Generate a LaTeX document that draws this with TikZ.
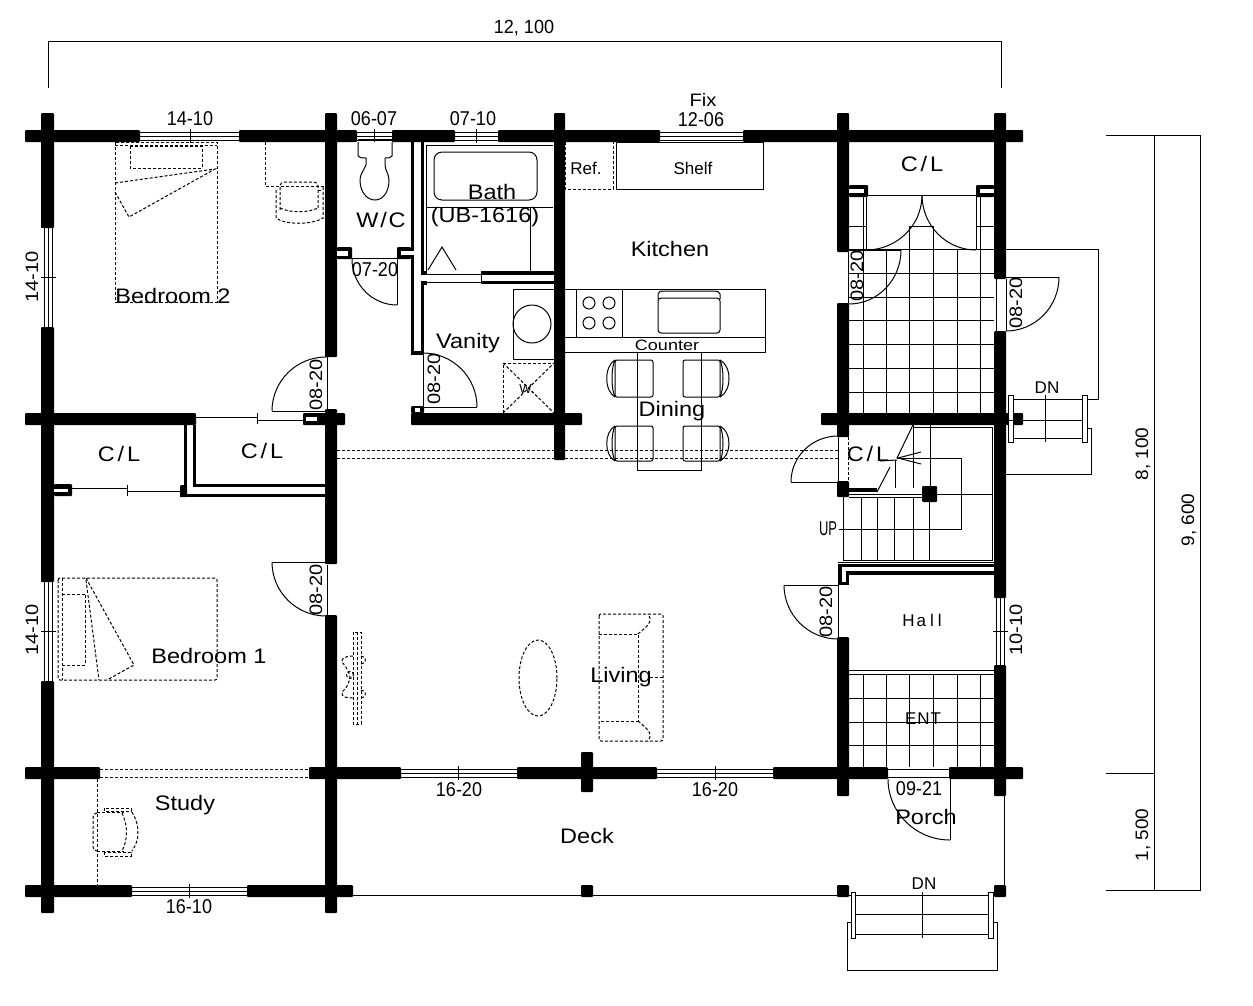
\documentclass[tikz,border=0pt]{standalone}
\usepackage{fontspec}
\setmainfont{Liberation Sans}
\usetikzlibrary{calc}
\tikzset{
  wall/.style={fill=black,rounded corners=1pt},
  ln/.style={draw=black,line width=1pt},
  dsh/.style={draw=black,line width=1pt,dash pattern=on 3pt off 2pt},
  rm/.style={inner sep=0pt,font=\fontsize{21}{21}\selectfont,transform shape,xscale=1.12},
  rmsm/.style={inner sep=0pt,font=\fontsize{17}{17}\selectfont},
  num/.style={inner sep=0pt,font=\fontsize{20}{20}\selectfont,transform shape,xscale=.9},
  dimt/.style={inner sep=0pt,font=\fontsize{19}{19}\selectfont,transform shape,xscale=.95}
}
\def\W(#1)(#2){\fill[wall] (#1) rectangle (#2);}
\def\swing(#1)(#2)(#3){\draw[ln] (#1) .. controls ($(#1)+.5523*(#2)-.5523*(#3)$) and ($(#2)+.5523*(#1)-.5523*(#3)$) .. (#2);}
\def\hwin#1#2#3#4{% x1 x2 ytop tick
  \draw[ln] (#1,#3+2)--(#2,#3+2) (#1,#3+6)--(#2,#3+6) (#1,#3+10)--(#2,#3+10);
  \draw[ln] (#4,#3-1)--(#4,#3+13);}
\def\vwin#1#2#3#4{% xleft y1 y2 tick
  \draw[ln] (#1+2,#2)--(#1+2,#3) (#1+6,#2)--(#1+6,#3) (#1+10,#2)--(#1+10,#3);
  \draw[ln] (#1-1,#4)--(#1+14,#4);}
\def\dinL#1#2{% rect left chair y1 y2
  \draw[ln,rounded corners=2pt] (615,#1) rectangle (653,#2);
  \draw[ln] (615,#1) .. controls (604,#1+6) and (604,#2-6) .. (615,#2);
  \draw[ln] (615,#1) .. controls (611,#1+8) and (611,#2-8) .. (615,#2);}
\def\dinR#1#2{%
  \draw[ln,rounded corners=2pt] (683,#1) rectangle (720,#2);
  \draw[ln] (720,#1) .. controls (732,#1+6) and (732,#2-6) .. (720,#2);
  \draw[ln] (720,#1) .. controls (724,#1+8) and (724,#2-8) .. (720,#2);}
\begin{document}
\begin{tikzpicture}[x=1pt,y=-1pt]
\useasboundingbox (0,0) rectangle (1253,1005);
\fill[white] (0,0) rectangle (1253,1005);

% --- dimension lines
\draw[ln] (48,88)--(48,41)--(1001,41)--(1001,88);
\draw[ln] (1106,135)--(1200,135)--(1200,890)--(1106,890);
\draw[ln] (1154,135)--(1154,890);
\draw[ln] (1106,773)--(1154,773);

% --- tile grids
\foreach \x in {863,886,909,933,957,980}{\draw[ln] (\x,249)--(\x,413);\draw[ln] (\x,674)--(\x,767);}
\foreach \y in {249,273,297,320,344,368,392}{\draw[ln] (849,\y)--(994,\y);}
\foreach \y in {674,698,722,745}{\draw[ln] (849,\y)--(994,\y);}
\draw[ln] (849,670)--(994,670);
\draw[ln] (863,197)--(863,249) (866,195)--(866,249) (976,195)--(976,249) (980,197)--(980,249);
\draw[ln] (849,226)--(866,226) (909,226)--(933,226) (976,226)--(994,226);
\draw[ln] (909,226)--(909,249) (933,226)--(933,249);
\draw[ln] (868,195)--(976,195);
\swing(922,195)(866,250)(866,195)
\swing(922,195)(976,250)(976,195)

% --- thick walls: outer verticals
\W(41,113)(54,228) \W(41,327)(54,582) \W(41,681)(54,913)
\W(325,113)(337,357) \W(325,409)(337,564) \W(325,615)(337,913)
\W(554,113)(565,460)
\W(837,113)(849,252) \W(837,303)(849,437) \W(837,637)(849,796)
\W(994,113)(1006,279) \W(994,331)(1006,598) \W(994,665)(1006,796)
% --- thick walls: horizontals
\W(25,130)(140,142) \W(239,130)(357,142) \W(392,130)(455,142) \W(498,130)(660,142) \W(743,130)(1023,142)
\W(25,413)(196,425) \W(303,413)(345,425)
\W(411,413)(582,425) \W(821,413)(1023,425)
\W(25,767)(100,779) \W(309,767)(401,779) \W(517,767)(657,779) \W(773,767)(888,779) \W(949,767)(1023,779)
\W(581,752)(593,792)
\W(25,885)(132,897) \W(247,885)(353,897)
% --- small posts
\W(581,885)(593,897) \W(837,885)(849,897) \W(994,885)(1006,897)
\fill[white] (306,417) rectangle (317,421);

% --- windows
\hwin{140}{239}{130}{190} \hwin{357}{392}{130}{374} \hwin{455}{498}{130}{476}
\draw[ln] (660,132)--(743,132) (660,136)--(743,136) (660,140)--(743,140);
\hwin{401}{517}{767}{458} \hwin{657}{773}{767}{715}
\hwin{132}{247}{885}{189}
\vwin{42}{228}{327}{277} \vwin{42}{582}{681}{631} \vwin{994}{598}{665}{631}

% --- beams
\draw[dsh] (337,450)--(554,450) (337,458)--(554,458) (565,450)--(838,450) (565,458)--(838,458);
\draw[dsh] (100,769)--(309,769) (100,777)--(309,777);

% --- closet partitions
\draw[line width=3.5pt] (185.5,425)--(185.5,486);
\draw[line width=3pt] (194.5,425)--(194.5,485.5)--(325,485.5);
\draw[line width=3.5pt] (180,495.5)--(325,495.5);
\W(180,485)(187,497)
\draw[ln] (196,417)--(257,417) (257,420)--(303,420) (257,413)--(257,424);
\draw[ln] (72,488)--(127,488) (127,491)--(180,491) (127,485)--(127,496);
\W(54,484)(72,496) \fill[white] (54,488.5) rectangle (68,492);

% --- W/C
\draw[line width=3.5pt] (412.5,142)--(412.5,353)--(424,353);
\draw[line width=3.5pt] (422.5,142)--(422.5,272) (422.5,283)--(422.5,353);
\W(337,247)(352,259) \fill[white] (337,251) rectangle (348,256);
\W(397,247)(411,259) \fill[white] (401,251) rectangle (414,255);
\draw[ln] (352,258)--(397,258);
\draw[ln] (397,259)--(397,305);
\swing(352,259)(397,305)(397,259)
% toilet
\draw[ln,fill=white] (358,142)--(358,156) .. controls (359,158) and (362,158) .. (366,158)--(366,165) .. controls (364,170) and (360,174) .. (360,180) .. controls (360,192) and (367,200) .. (375,200) .. controls (383,200) and (389,192) .. (389,180) .. controls (389,174) and (385,170) .. (385,165)--(385,158) .. controls (388,158) and (391,158) .. (392,156)--(392,142);
\draw[line width=1.6pt] (358,140)--(392,140);

% --- bath
\draw[ln] (426,145)--(426,271) (426,145)--(553,145);
\draw[ln,rounded corners=8pt] (434,152) rectangle (537,200);
\draw[ln] (426,207)--(553,207) (530,207)--(530,271);
\draw[ln] (428,270)--(442,247)--(456,270);
\draw[line width=3.5pt] (421,273)--(427,273) (481,273)--(554,273) (481,282.5)--(554,282.5) (421,283)--(427,283);
\draw[ln] (427,274)--(481,274) (427,282)--(481,282) (481,274)--(481,282);

% --- vanity
\draw[ln] (513,359)--(513,289)--(554,289) (513,359)--(554,359);
\draw[ln] (532,324) circle[radius=19pt];
\draw[dsh] (503,413)--(503,363)--(554,363);
\draw[dsh] (503,413)--(554,363) (503,363)--(554,413);
\draw[ln] (423,353)--(423,407)--(477,407);
\swing(423,353)(477,407)(423,407)
\W(411,406)(424,413) \fill[white] (415,408) rectangle (420,412);

% --- kitchen
\draw[dsh] (565,142)--(565,189)--(613,189)--(613,142);
\draw[ln] (616,142) rectangle (763,189);
\draw[ln] (565,289)--(765,289)--(765,352)--(565,352) (565,337)--(765,337);
\draw[ln] (576,289)--(576,337) (622,289)--(622,337);
\foreach \px in {589,609}{\foreach \py in {303,323}{\draw[ln] (\px,\py) circle[radius=6pt];}}
\draw[ln,rounded corners=3pt] (658,298) rectangle (720,333);
\draw[ln] (658,299)--(658,294) .. controls (659,291) and (661,291) .. (663,291)--(715,291) .. controls (718,291) and (719,292) .. (720,294)--(720,299);

% --- dining
\draw[ln] (637,352)--(637,470)--(701,470)--(701,352);
\dinL{360}{397} \dinR{360}{397} \dinL{426}{461} \dinR{426}{461}

% --- bedroom 2 furniture
\draw[dsh] (115,142) rectangle (217,302);
\draw[dsh] (115,145)--(217,145);
\draw[dsh] (130,146) rectangle (202,168);
\draw[dsh] (115,183)--(215,169)--(129,217)--(115,192);
\draw[dsh] (265,142)--(265,186)--(325,186);
\draw[dsh,rounded corners=4pt] (280,210)--(280,182)--(318,182)--(318,210);
\draw[dsh] (280,208) .. controls (290,213) and (308,213) .. (318,208);
\draw[dsh] (276,190)--(276,218) .. controls (285,225) and (312,225) .. (323,218)--(323,186);
\draw[dsh] (318,190)--(323,190);

% --- bedroom 2 door
\draw[ln] (272,411)--(326,411) (327,357)--(327,411);
\swing(326,357)(272,411)(326,411)

% --- bedroom 1 furniture
\draw[dsh,rounded corners=2pt] (58,578) rectangle (217,680);
\draw[dsh] (62,578)--(62,680);
\draw[dsh] (85,594)--(62,594) (62,665)--(85,665)--(85,594);
\draw[dsh] (86,578)--(134,665)--(107,680);
\draw[dsh] (86,580)--(99,680);
\draw[ln] (272,562)--(325,562) (327,565)--(327,615);
\swing(272,562)(326,616)(326,562)

% --- study
\draw[dsh] (97,779)--(97,885);
\draw[dsh,rounded corners=4pt] (97,813)--(93,813)--(93,851)--(97,851);
\draw[dsh] (97,812)--(124,812) (97,851)--(124,851);
\draw[dsh] (104,808) rectangle (131,811);
\draw[dsh] (104,852) rectangle (131,856);
\draw[dsh] (122,813) .. controls (128,825) and (128,840) .. (122,851);
\draw[dsh] (132,812) .. controls (140,825) and (140,840) .. (132,851);

% --- living furniture
\draw[dsh] (353,632) rectangle (361,724);
\draw[dsh] (357,632)--(357,724);
\draw[dsh] (353,656) .. controls (346,656) and (341,658) .. (342,662) .. controls (347,668) and (349,672) .. (350,677) .. controls (349,683) and (347,688) .. (342,692) .. controls (341,697) and (346,698) .. (353,698);
\draw[dsh] (361,656) .. controls (367,656) and (367,664) .. (361,664);
\draw[dsh] (361,690) .. controls (367,690) and (367,698) .. (361,698);
\draw[dsh] (350,675) circle[radius=3.5pt];
\draw[dsh] (538,678) ellipse[x radius=19pt,y radius=38pt];
\draw[dsh,rounded corners=2pt] (599,614) rectangle (663,741);
\draw[dsh] (599,634)--(638,634)--(638,721)--(599,721);
\draw[dsh] (638,634) .. controls (646,627) and (654,622) .. (648,614);
\draw[dsh] (638,721) .. controls (646,728) and (654,733) .. (648,741);
\draw[dsh] (650,677)--(663,677);

% --- NE closet stubs and doors
\W(849,185)(868,197) \fill[white] (849,189) rectangle (864,193);
\W(976,185)(994,197) \fill[white] (980,189) rectangle (994,193);
\draw[ln] (848,252)--(848,303) (849,250)--(901,250);
\swing(901,250)(849,304)(849,250)
% east door and landing
\draw[ln] (996,279)--(996,331) (1006,279)--(1006,331);
\draw[ln] (1006,277)--(1059,277);
\swing(1059,277)(1006,331)(1006,277)
\draw[ln] (1006,249)--(1098,249)--(1098,399)--(1087,399);
\draw[ln] (1006,474)--(1091,474)--(1091,428)--(1087,428);
\draw[ln,fill=white] (1008,395) rectangle (1013,442);
\draw[ln,fill=white] (1082,395) rectangle (1087,442);
\draw[ln] (1013,399)--(1082,399) (1006,420)--(1082,420) (1013,438)--(1082,438) (1045,395)--(1045,442);

% --- stairs
\draw[ln] (913,427)--(992,427)--(992,560)--(843,560)--(843,497);
\draw[ln] (838,562)--(994,562);
\foreach \x in {861,877,894,913,929}{\draw[ln] (\x,497)--(\x,560);}
\draw[ln] (895,460)--(895,488) (913,425)--(913,488) (930,425)--(930,487);
\draw[ln] (937,494)--(992,494);
\draw[ln] (839,529)--(961,529)--(961,458)--(897,458);
\draw[ln] (921,452)--(898,458)--(921,464);
\draw[ln] (913,425)--(897,458);
\draw[ln] (890,467)--(877,492);
\draw[ln] (880,461)--(897,460);
\W(837,481)(849,497) \W(922,486)(937,502) \fill[black] (848,488) rectangle (877,492);
\draw[ln] (849,494)--(922,494) (849,497)--(922,497);
\draw[ln] (838,437)--(838,481);
\draw[dsh] (848,437)--(848,481);
\draw[ln] (791,482)--(838,482);
\swing(838,436)(791,482)(838,482)
% stair partition
\draw[line width=3.5pt] (840,585)--(840,565.5)--(994,565.5);
\draw[line width=3.5pt] (840,583.5)--(847.5,583.5)--(847.5,573)--(994,573);
% hall door
\draw[ln] (784,585)--(838,585) (838,585)--(838,637);
\swing(784,585)(838,639)(838,585)

% --- entry door
\draw[ln] (888,769)--(949,769) (888,777)--(949,777);
\draw[ln] (950,779)--(950,840);
\swing(888,779)(950,840)(950,779)

% --- deck
\draw[ln] (353,895)--(581,895) (593,895)--(837,895) (849,895)--(994,895);
\draw[ln] (1004,796)--(1004,886);
\draw[ln] (851,922)--(847,922)--(847,970)--(997,970)--(997,922)--(993,922);
\draw[ln,fill=white] (851,892) rectangle (855,938);
\draw[ln,fill=white] (988,892) rectangle (993,938);
\draw[ln] (855,914)--(988,914) (855,934)--(988,934) (922,892)--(922,938);

% --- text
\node[dimt] (d1) at (524,28) {12, 100};
\node[dimt,rotate=90] (d2) at (1143,454) {8, 100};
\node[dimt,rotate=90] (d3) at (1189,520) {9, 600};
\node[dimt,rotate=90] (d4) at (1143,835) {1, 500};
\node[num] (w1) at (190,119) {14-10};
\node[num] (w2) at (374,119) {06-07};
\node[num] (w3) at (473,119) {07-10};
\node[inner sep=0pt,font=\fontsize{18}{18}\selectfont,transform shape,xscale=1.12] (fix) at (703,100) {Fix};
\node[num] (w4) at (701,120) {12-06};
\node[num,rotate=90] (w5) at (32,277) {14-10};
\node[num,rotate=90] (w6) at (32,630) {14-10};
\node[num,rotate=90] (n1) at (316,385) {08-20};
\node[num,rotate=90] (n2) at (316,590) {08-20};
\node[num] (n3) at (375,270) {07-20};
\node[num,rotate=90] (n4) at (434,379) {08-20};
\node[num,rotate=90] (n5) at (857,276) {08-20};
\node[num,rotate=90] (n6) at (1016,303) {08-20};
\node[num,rotate=90] (n7) at (826,612) {08-20};
\node[num,rotate=90] (n8) at (1016,630) {10-10};
\node[num] (n9) at (919,789) {09-21};
\node[num] (w7) at (459,790) {16-20};
\node[num] (w8) at (715,790) {16-20};
\node[num] (w9) at (189,907) {16-10};
\node[rm] (bd2) at (173,296) {Bedroom 2};
\node[rm] (wc) at (381,220) {W\kern1.5pt/\kern1.5pt C};
\node[rm] (bath) at (492,192) {Bath};
\node[rm] (ub) at (485,217) {(UB-1616)};
\node[rmsm] (ref) at (586,168) {Ref.};
\node[rmsm] (shelf) at (693,168) {Shelf};
\node[rm] (kit) at (670,249) {Kitchen};
\node[rm] (van) at (468,343) {Vanity};
\node[inner sep=0pt,font=\fontsize{13}{13}\selectfont] (wm) at (527,389) {W.};
\node[inner sep=0pt,font=\fontsize{15}{15}\selectfont,transform shape,xscale=1.2] (cnt) at (667,345) {Counter};
\node[rm] (din) at (672,411) {Dining};
\node[rm] (cl1) at (119,454) {C\kern2.5pt/\kern2.5pt L};
\node[rm] (cl2) at (262,451) {C\kern2.5pt/\kern2.5pt L};
\node[rm] (cl3) at (922,164) {C\kern2.5pt/\kern2.5pt L};
\node[rm] (cl4) at (868,454) {C\kern2.5pt/\kern2.5pt L};
\node[rmsm] (dn1) at (1047,388) {DN};
\node[num,xscale=.72] (up) at (828,529) {UP};
\node[rmsm] (hall) at (922,620) {H\kern2pt a\kern4pt l\kern4pt l};
\node[rmsm] (ent) at (923,719) {E\kern1pt N\kern1pt T};
\node[rm] (porch) at (926,817) {Porch};
\node[rmsm] (dn2) at (924,884) {DN};
\node[rm] (deck) at (587,836) {Deck};
\node[rm] (study) at (185,805) {Study};
\node[rm] (bd1) at (209,656) {Bedroom 1};
\node[rm] (liv) at (621,677) {Living};
\end{tikzpicture}
\end{document}
